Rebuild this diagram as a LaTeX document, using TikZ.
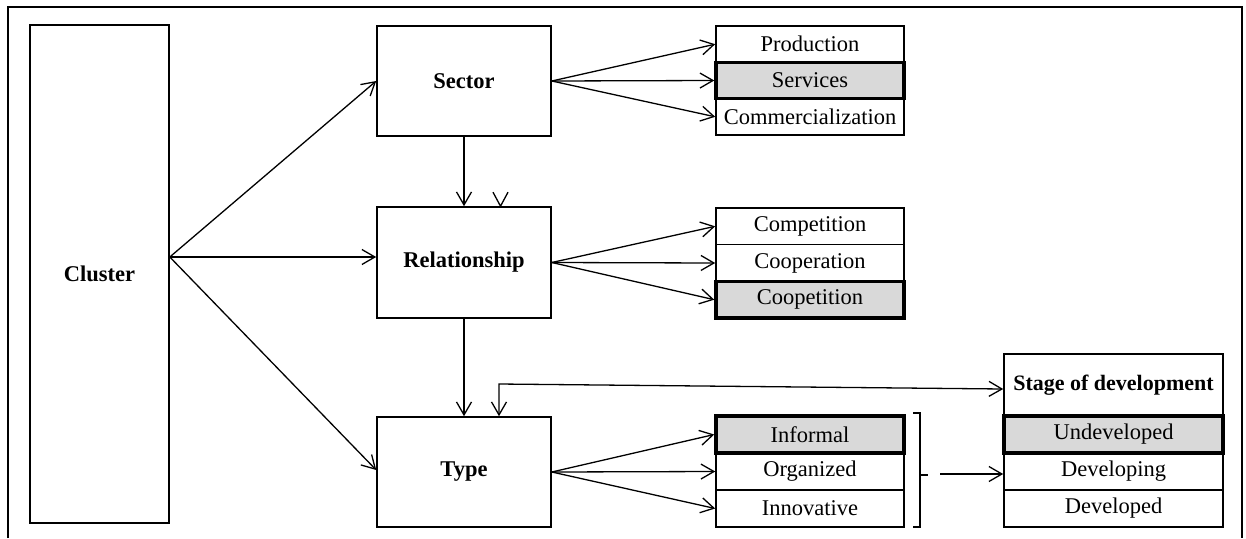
\documentclass[tikz,border=0pt]{standalone}
\usepackage{fontspec}
\setmainfont{Liberation Serif}
\usetikzlibrary{arrows.meta}
\begin{document}
\begin{tikzpicture}[x=1pt,y=-1pt,
  box/.style={draw, line width=1.6pt, inner sep=0pt, font=\fontsize{22.5}{26}\selectfont\bfseries},
  item/.style={draw, line width=1.6pt, inner sep=0pt, minimum width=188pt, font=\fontsize{22.5}{26}\selectfont},
  sel/.style={item, line width=3.5pt, fill=black!15},
  arr/.style={-{Straight Barb[length=13pt,width=15pt,line width=1.3pt]}, line width=1.3pt},
  dbl/.style={{Straight Barb[length=13pt,width=15pt,line width=1.3pt]}-{Straight Barb[length=13pt,width=15pt,line width=1.3pt]}, line width=1.3pt},
  vee/.style={line width=1.3pt}
]
\useasboundingbox (0,0) rectangle (1246,538);
% outer frame (open at the bottom)
\draw[line width=1.8pt] (8,538) -- (8,7) -- (1242,7) -- (1242,538);

% main boxes
\node[box, minimum width=139pt, minimum height=498pt] (cluster) at (99.5,274) {Cluster};
\node[box, minimum width=174pt, minimum height=110pt] (sector) at (464,81) {Sector};
\node[box, minimum width=174pt, minimum height=111pt] (rel) at (464,262.5) {Relationship};
\node[box, minimum width=174pt, minimum height=110pt] (type) at (464,472) {Type};

% sector items
\node[item, minimum height=36.3pt] (prod) at (810,44.2) {Production};
\node[item, minimum height=36.3pt] (comm) at (810,116.8) {Commercialization};
\node[sel, minimum height=36.3pt] (serv) at (810,80.5) {Services};

% relationship items
\node[item, minimum height=36.7pt] (comp) at (810,226.3) {Competition};
\node[item, minimum height=36.7pt] (coop) at (810,263) {Cooperation};
\node[sel, minimum height=36.7pt] (coopet) at (810,299.7) {Coopetition};

% type items
\node[item, minimum height=37pt] (orga) at (810,471.5) {Organized};
\node[item, minimum height=37pt] (inno) at (810,508.5) {Innovative};
\node[sel, minimum height=37pt] (info) at (810,434.5) {Informal};

% stage of development
\node[item, minimum width=219pt, minimum height=62pt, font=\fontsize{22}{26}\selectfont\bfseries] (stagehead) at (1113.5,385) {Stage of development};
\node[item, minimum width=219pt, minimum height=37pt] (dev) at (1113.5,471.5) {Developing};
\node[item, minimum width=219pt, minimum height=37pt] (devd) at (1113.5,508.5) {Developed};
\node[sel, minimum width=219pt, minimum height=37pt] (undev) at (1113.5,434.5) {Undeveloped};

% cluster arrows
\coordinate (co) at ([yshift=17pt]cluster.east);
\draw[arr] (co) -- (sector.west);
\draw[arr] (co) -- (rel.west |- co);
\draw[arr] (co) -- ([yshift=2pt]type.west);

% fan-out arrows
\foreach \t in {prod,serv,comm} \draw[arr] (sector.east) -- (\t.west);
\foreach \t in {comp,coop,coopet} \draw[arr] (rel.east) -- (\t.west);
\foreach \t in {info,orga,inno} \draw[arr] (type.east) -- (\t.west);

% vertical arrows
\draw[arr] (sector.south) -- (rel.north);
\draw[arr] (rel.south) -- (type.north);
% lone arrowhead on Relationship
\draw[vee] ([xshift=29pt,yshift=14pt]rel.north) -- ([xshift=36.5pt]rel.north) -- ([xshift=44pt,yshift=14pt]rel.north);

% long two-headed connector
\coordinate (corner) at (499,384);
\draw[dbl] ([yshift=-4pt]stagehead.west) -- (corner) -- (type.north -| corner);

% bracket and arrow to stage
\draw[line width=1.5pt] (913,413) -- (920,413) -- (920,527) -- (913,527);
\draw[line width=1.5pt] (920,475) -- (928,475);
\coordinate (brk) at (940,474);
\draw[arr] (brk) -- (dev.west |- brk);
\end{tikzpicture}
\end{document}
